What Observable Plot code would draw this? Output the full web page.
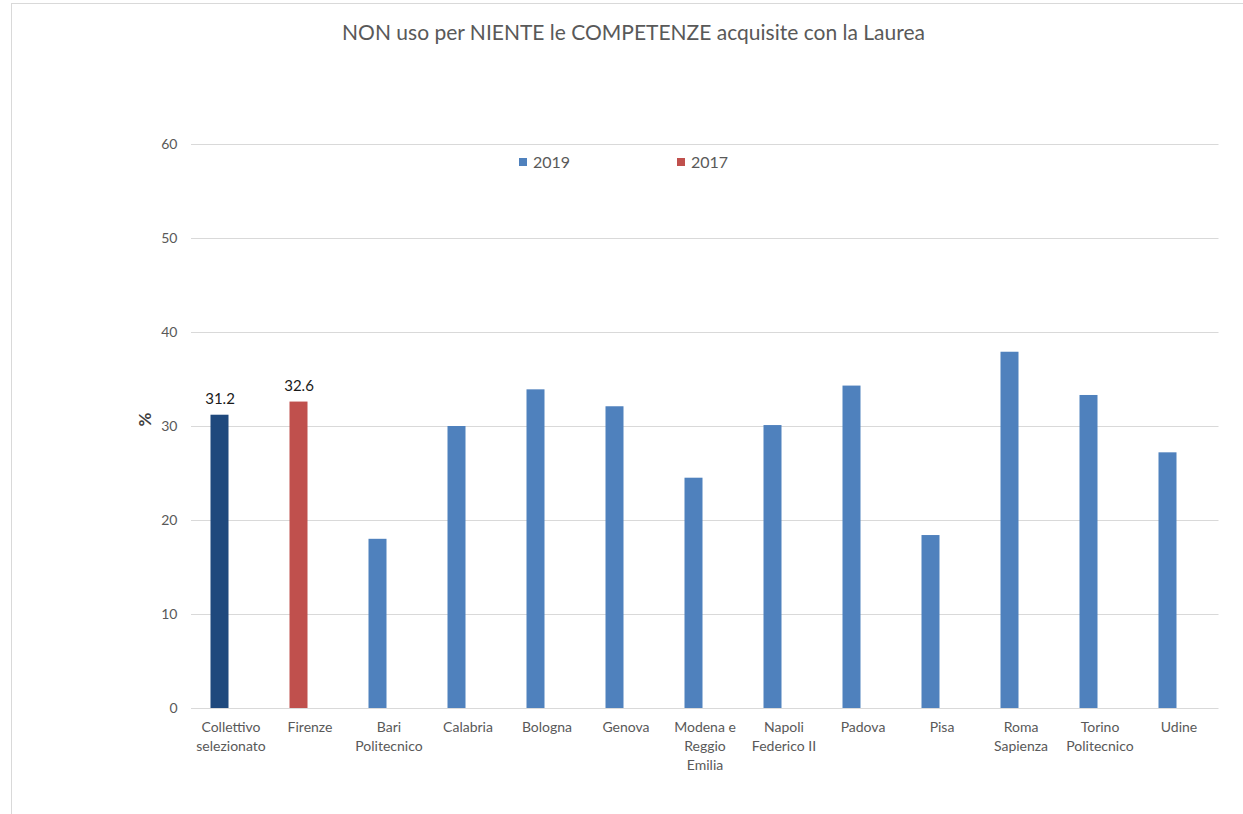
<!DOCTYPE html>
<html><head><meta charset="utf-8">
<script src="https://cdn.jsdelivr.net/npm/d3@7"></script>
<script src="https://cdn.jsdelivr.net/npm/@observablehq/plot@0.6"></script>
<style>
body{margin:0;background:#fff;font-family:Lato,"Open Sans",sans-serif;}
#wrap{position:relative;width:1243px;height:814px;overflow:hidden;background:#fff;}
#frame{position:absolute;left:11px;top:3px;width:1240px;height:820px;border:1px solid #d9d9d9;box-sizing:border-box;}
#title{position:absolute;top:19px;left:12px;width:1243px;text-align:center;font-size:21px;color:#595959;line-height:26px;}
.leg{position:absolute;top:152px;font-size:16px;color:#595959;line-height:20px;display:flex;align-items:center;}
.leg span.sw{display:inline-block;width:8px;height:8px;margin-right:6px;}
#chart{position:absolute;top:60px;left:0;}
</style></head>
<body>
<div id="wrap">
  <div id="frame"></div>
  <div id="title">NON uso per NIENTE le COMPETENZE acquisite con la Laurea</div>
  <div id="chart"></div>
  <div id="legend"></div>
</div>
<script>
const categories = ["Collettivo\nselezionato","Firenze","Bari\nPolitecnico","Calabria","Bologna","Genova","Modena e\nReggio\nEmilia","Napoli\nFederico II","Padova","Pisa","Roma\nSapienza","Torino\nPolitecnico","Udine"];
const values = [31.2, 32.6, 18.0, 30.0, 33.9, 32.1, 24.5, 30.1, 34.3, 18.4, 37.9, 33.3, 27.2];
const groups = ["totale","2017","2019","2019","2019","2019","2019","2019","2019","2019","2019","2019","2019"];
const labeledCount = 2;
const yTicks = [0, 10, 20, 30, 40, 50, 60];
const legendItems = ["2019", "2017"];
const colorDomain = ["totale", "2019", "2017"];
const colorRange = ["#1F497D", "#4F81BD", "#C0504D"];

const data = categories.map((c, i) => ({cat: c, value: values[i], group: groups[i]}));

const chart = Plot.plot({
  width: 1243,
  height: 754,
  marginLeft: 191,
  marginRight: 24.5,
  marginTop: 84,
  marginBottom: 106,
  style: {fontFamily: "Lato, 'Open Sans', sans-serif", background: "transparent"},
  x: {domain: categories, padding: 0, type: "band"},
  y: {domain: [0, 60]},
  color: {domain: colorDomain, range: colorRange},
  marks: [
    Plot.gridY(yTicks, {stroke: "#d9d9d9", strokeOpacity: 1, strokeWidth: 1}),
    Plot.axisY(yTicks, {tickSize: 0, tickPadding: 14, fontSize: 14, fill: "#595959", label: null}),
    Plot.axisX({tickSize: 0, tickPadding: 10, fontSize: 14, fill: "#595959", label: null, lineHeight: 1.35, textAnchor: "middle"}),
    Plot.barY(data, {x: "cat", y: "value", fill: "group", insetLeft: 19.5, insetRight: 41.5}),
    Plot.text(data.slice(0, labeledCount), {x: "cat", y: "value", text: d => d.value.toFixed(1), dx: -11, dy: -16, fontSize: 15, fill: "#1a1a1a"}),
    Plot.text(["%"], {frameAnchor: "left", dx: -46, rotate: -90, text: d => d, fontSize: 17, fontWeight: "bold", fill: "#404040"})
  ]
});
document.getElementById("chart").appendChild(chart);

const leg = document.getElementById("legend");
const legLeft = [519, 677];
legendItems.forEach((k, i) => {
  const d = document.createElement("div");
  d.className = "leg";
  d.style.left = legLeft[i] + "px";
  const sw = document.createElement("span");
  sw.className = "sw";
  sw.style.background = colorRange[colorDomain.indexOf(k)];
  d.appendChild(sw);
  d.appendChild(document.createTextNode(k));
  leg.appendChild(d);
});
</script>
</body></html>
